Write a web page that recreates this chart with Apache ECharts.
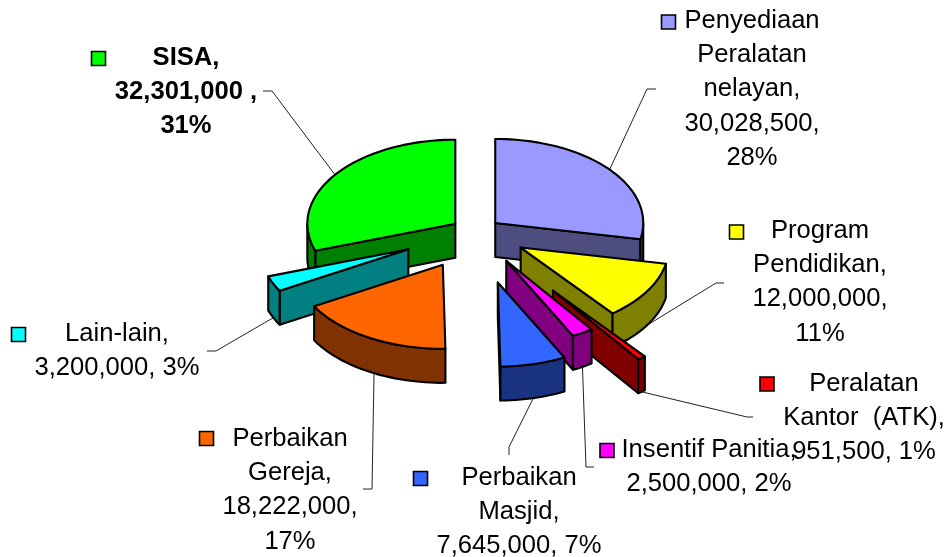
<!DOCTYPE html>
<html>
<head>
<meta charset="utf-8">
<style>html,body{margin:0;padding:0;background:#fff}#c{width:950px;height:557px}</style>
<script src="https://cdn.jsdelivr.net/npm/echarts@6/dist/echarts.min.js"></script>
</head>
<body>
<div id="c"></div>
<script>
// ---- data, in pie order (clockwise from 12 o'clock) ----
const categories = ['Penyediaan Peralatan nelayan','Program Pendidikan','Peralatan Kantor (ATK)','Insentif Panitia','Perbaikan Masjid','Perbaikan Gereja','Lain-lain','SISA'];
const values = [30028500, 12000000, 951500, 2500000, 7645000, 18222000, 3200000, 32301000];
const labelTexts = [
  'Penyediaan\nPeralatan\nnelayan,\n30,028,500,\n28%',
  'Program\nPendidikan,\n12,000,000,\n11%',
  'Peralatan\nKantor  (ATK),\n951,500, 1%',
  'Insentif Panitia,\n2,500,000, 2%',
  'Perbaikan\nMasjid,\n7,645,000, 7%',
  'Perbaikan\nGereja,\n18,222,000,\n17%',
  'Lain-lain,\n3,200,000, 3%',
  'SISA,\n32,301,000 ,\n31%'
];
// ---- styling and layout, same order ----
const topColors  = ['#9999FF','#FFFF00','#FF0000','#FF00FF','#3366FF','#FF6600','#00FFFF','#00FF00'];
const wallColors = ['#4D4D80','#808000','#800000','#800080','#1A3380','#803300','#008080','#008000'];
const explode    = [0.17, 0.355, 0.87, 0.40, 0.62, 0.45, 0.50, 0.17];
const drawOrder  = [0, 7, 6, 5, 1, 2, 3, 4];
const labelCenterX = [752, 820, 864, 709, 519, 290, 117, 186];
const labelFirstY  = [20.5, 230.5, 383.5, 449.5, 477.5, 438.5, 333.5, 57.5];
const keyCenter = [[668.5,22],[736.5,232],[767,384],[607,450.5],[420.5,478.5],[206.5,438.5],[18.5,334.5],[98.5,58.5]];
const leaderElbows = [
  [[647,89],[656,89]], [[716,283],[724,283]], [[747,417],[753,417]], [[586,467],[594,467]],
  [[509,447],[509,455]], [[372,489],[363,489]], [[216,351],[207,351]], [[272,91],[263,91]]
];
const leaderAngleNudge = [0,0,0,0,0,-2,0,0];
const boldLabel = [false,false,false,false,false,false,false,true];

const CX = 475.8, CY = 232, RX = 148, RY = 84, DEPTH = 34, LINE = 2.1;
const FONT = '"Liberation Sans", Arial, sans-serif';

const total = values.reduce((a, b) => a + b, 0);
const starts = []; let acc = 0;
values.forEach(v => { starts.push(acc / total * 360); acc += v; });

const rad = d => d * Math.PI / 180;
function sliceGeom(i) {
  const a0 = starts[i], a1 = a0 + values[i] / total * 360, mid = (a0 + a1) / 2;
  const ax = CX + explode[i] * RX * Math.sin(rad(mid));
  const ay = CY - explode[i] * RY * Math.cos(rad(mid));
  const pt = (ang, dz) => [ax + RX * Math.sin(rad(ang)), ay - RY * Math.cos(rad(ang)) + (dz || 0)];
  return {a0, a1, mid, ax, ay, pt};
}
function arcPts(g, from, to, dz) {
  const n = Math.max(2, Math.ceil((to - from) / 2)), out = [];
  for (let k = 0; k <= n; k++) out.push(g.pt(from + (to - from) * k / n, dz));
  return out;
}

function renderSlice(params, api) {
  const i = api.value(0), g = sliceGeom(i), children = [];
  const face = (points, fill) => children.push({
    type: 'polygon', shape: {points},
    style: {fill, stroke: '#000', lineWidth: LINE, lineJoin: 'round'}
  });
  const wall = wallColors[i];
  const A = [g.ax, g.ay], Ab = [g.ax, g.ay + DEPTH];
  if (g.a0 > 180 && g.a0 < 360) face([A, g.pt(g.a0), g.pt(g.a0, DEPTH), Ab], wall);
  if (g.a1 > 0 && g.a1 < 180) face([A, g.pt(g.a1), g.pt(g.a1, DEPTH), Ab], wall);
  const lo = Math.max(g.a0, 90), hi = Math.min(g.a1, 270);
  if (hi > lo) face(arcPts(g, lo, hi, 0).concat(arcPts(g, lo, hi, DEPTH).reverse()), wall);
  face([A].concat(arcPts(g, g.a0, g.a1, 0)), topColors[i]);
  return {type: 'group', children};
}

function renderLabel(params, api) {
  const i = api.value(0), g = sliceGeom(i), m = g.mid + leaderAngleNudge[i];
  const start = g.pt(m, m > 90 && m < 270 ? DEPTH : 0);
  const k = keyCenter[i];
  return {type: 'group', children: [
    {type: 'polyline', shape: {points: [start].concat(leaderElbows[i])},
     style: {fill: null, stroke: '#222', lineWidth: 1}},
    {type: 'rect', shape: {x: k[0] - 7, y: k[1] - 7, width: 14, height: 14},
     style: {fill: topColors[i], stroke: '#000', lineWidth: 1.6}},
    {type: 'text', style: {
      text: labelTexts[i], x: labelCenterX[i], y: labelFirstY[i] - 17,
      align: 'center', verticalAlign: 'top', lineHeight: 34.3,
      fontFamily: FONT, fontSize: 25.6, fontWeight: boldLabel[i] ? 'bold' : 'normal', fill: '#000'
    }}
  ]};
}

const chart = echarts.init(document.getElementById('c'), null, {renderer: 'canvas'});
chart.setOption({
  animation: false,
  backgroundColor: '#fff',
  series: [
    {type: 'custom', name: 'labels', coordinateSystem: 'none', silent: true, z: 1,
     data: categories.map((c, i) => ({name: c, value: [i, values[i]]})), renderItem: renderLabel},
    {type: 'custom', name: 'slices', coordinateSystem: 'none', silent: true, z: 2,
     data: drawOrder.map(i => ({name: categories[i], value: [i, values[i]]})), renderItem: renderSlice}
  ]
});
</script>
</body>
</html>
